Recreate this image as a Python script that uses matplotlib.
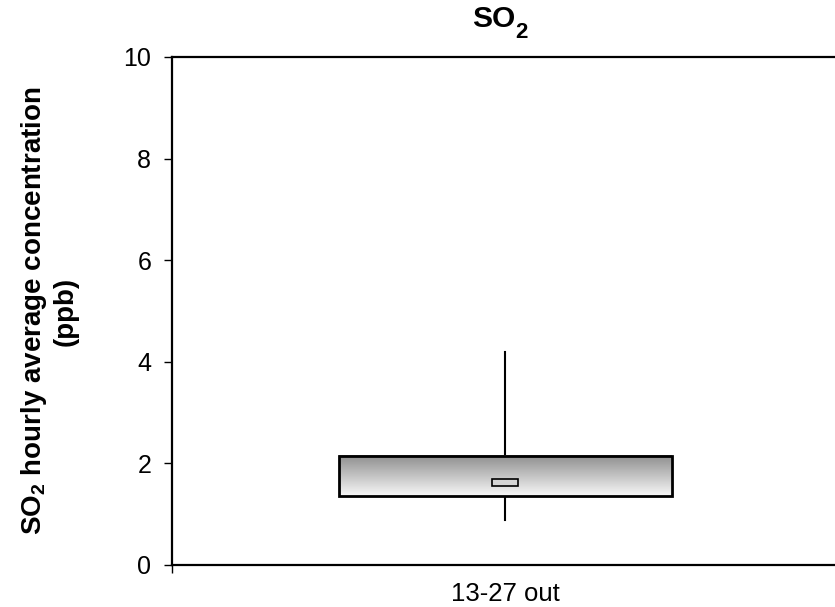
import numpy as np
import matplotlib
matplotlib.use("Agg")
import matplotlib.pyplot as plt
from matplotlib.patches import Rectangle

plt.rcParams['font.family'] = ['Liberation Sans', 'DejaVu Sans']
plt.rcParams['mathtext.fontset'] = 'custom'
plt.rcParams['mathtext.rm'] = 'Liberation Sans'
plt.rcParams['mathtext.bf'] = 'Liberation Sans:bold'

# Box-plot summary for the sampling period (ppb)
categories = ["13-27 out"]
whisker_low = [0.89]
q1 = [1.36]
median = [1.62]
q3 = [2.15]
whisker_high = [4.19]

y_ticks = [0, 2, 4, 6, 8, 10]

fig = plt.figure(figsize=(8.35, 6.07), dpi=100)
ax = fig.add_axes([0.206, 0.0692, 0.7976, 0.837])

box_w = 0.5
med_w = 0.04
med_h = 0.13

# vertical gradient from grey at the top to near-white at the bottom
grad = np.linspace(0, 1, 256).reshape(-1, 1)
cmap = matplotlib.colors.LinearSegmentedColormap.from_list("g", ["#f8f8f8", "#8e8e8e"])

for i, cat in enumerate(categories):
    cx = i + 0.5
    ax.plot([cx, cx], [q3[i], whisker_high[i]], color="black", lw=1.5, zorder=2)
    ax.plot([cx, cx], [whisker_low[i], q1[i]], color="black", lw=1.5, zorder=2)
    x0 = cx - box_w / 2
    ax.imshow(grad, extent=[x0, x0 + box_w, q1[i], q3[i]], origin="lower",
              cmap=cmap, aspect="auto", zorder=3)
    ax.add_patch(Rectangle((x0, q1[i]), box_w, q3[i] - q1[i], fill=False,
                           edgecolor="black", lw=2, zorder=4))
    ax.add_patch(Rectangle((cx - med_w / 2, median[i] - med_h / 2), med_w, med_h,
                           facecolor="#d4d4d4", edgecolor="black", lw=1.2, zorder=5))

ax.set_xlim(0, len(categories))
ax.set_ylim(0, 10)

ax.set_yticks(y_ticks)
ax.set_yticklabels([str(t) for t in y_ticks], fontsize=18)
ax.set_xticks(np.arange(len(categories) + 1))
ax.set_xticklabels([])
ax.set_xticks([i + 0.5 for i in range(len(categories))], minor=True)
ax.set_xticklabels(categories, minor=True, fontsize=18.5)
ax.tick_params(axis="x", which="minor", length=0, pad=12)
ax.tick_params(axis="both", which="major", direction="out", length=6, width=1, color="black")
ax.tick_params(axis="y", pad=9)

for s in ["left", "bottom", "top"]:
    ax.spines[s].set_linewidth(1.6)
ax.spines["right"].set_visible(False)

# title: "SO" with a lowered "2"
so = fig.text(0.6175, 1 - 27 / 607, "SO", fontsize=21.5, fontweight="bold",
              ha="right", va="baseline")
ax.annotate("2", xy=(1, 0), xycoords=so, xytext=(0, -10), textcoords="offset pixels",
            fontsize=16, fontweight="bold", ha="left", va="bottom",
            annotation_clip=False)

ax.set_ylabel("SO$_\\mathbf{2}$ hourly average concentration\n(ppb)", fontsize=20,
              fontweight="bold", labelpad=32, linespacing=1.2)

fig.savefig("out.png", dpi=100)
